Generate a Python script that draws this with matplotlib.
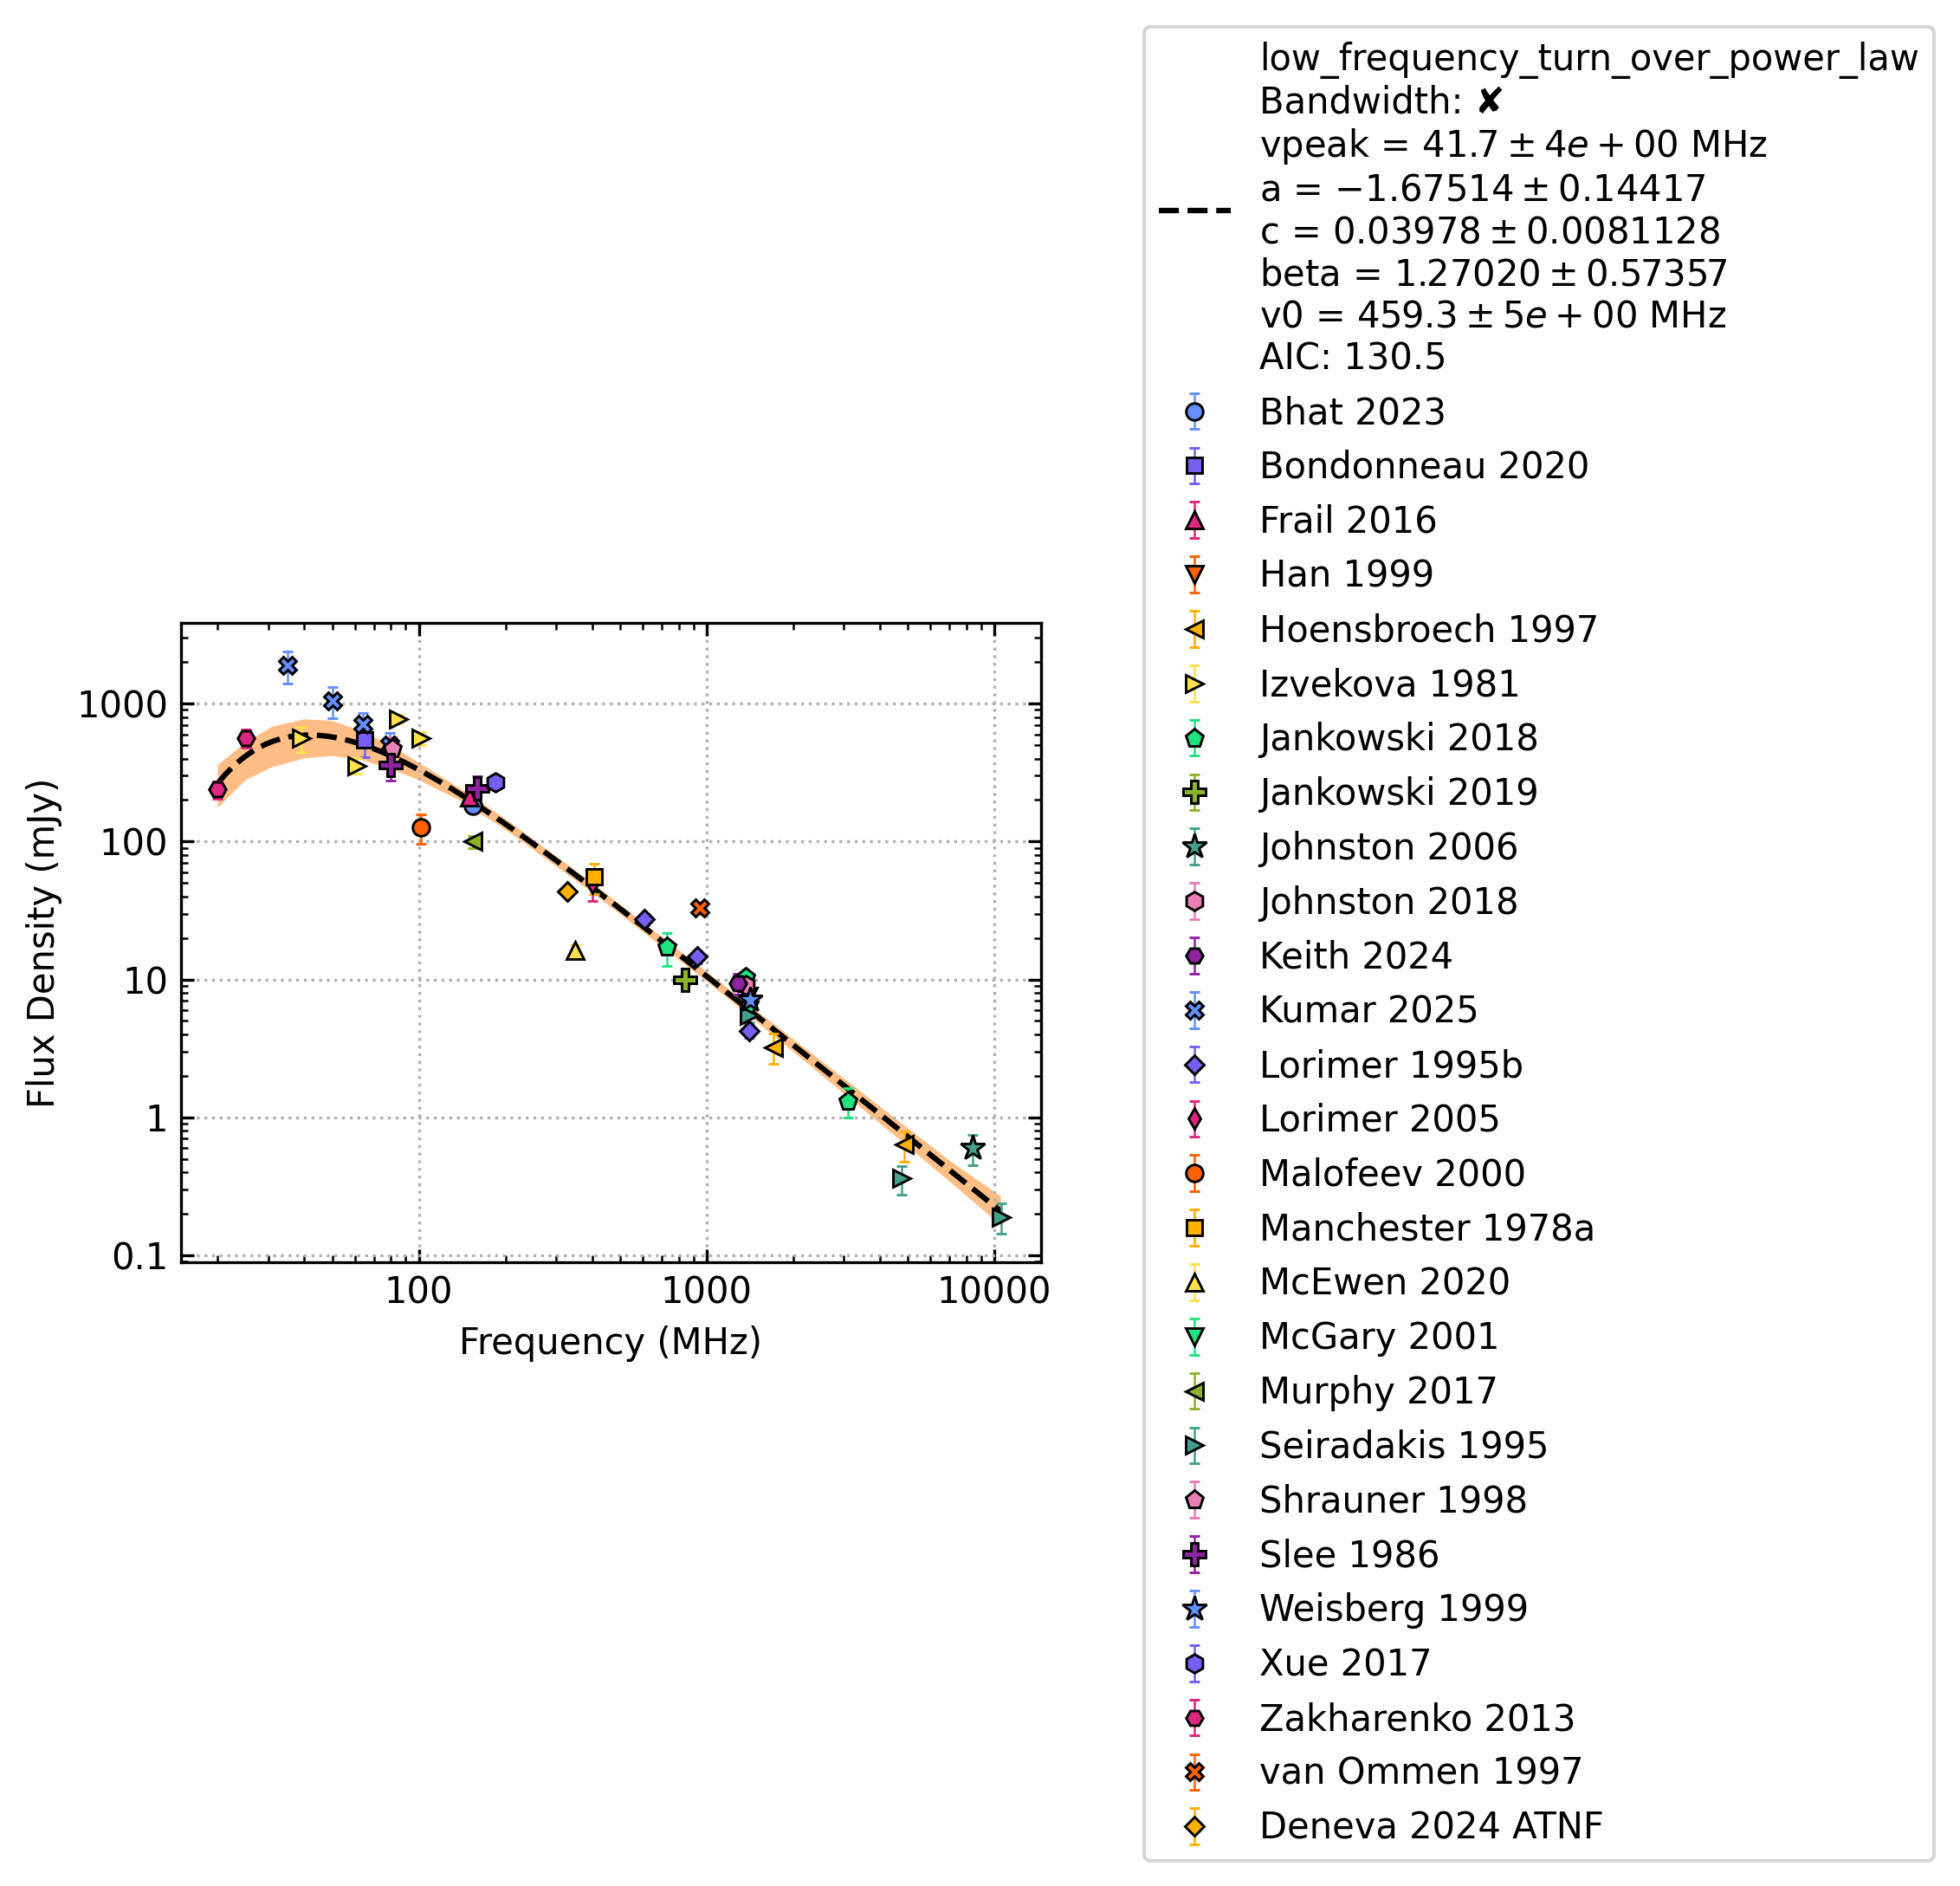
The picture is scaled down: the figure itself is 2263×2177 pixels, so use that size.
import numpy as np
import matplotlib
matplotlib.use('Agg')
import matplotlib.pyplot as plt
from matplotlib.ticker import FuncFormatter, NullFormatter


# fitted model parameters (low_frequency_turn_over_power_law)
fit_name = 'low_frequency_turn_over_power_law'
vpeak, vpeak_err = 41.7, 4.0
a, a_err = -1.67514, 0.14417
c, c_err = 0.03978, 0.0081128
beta, beta_err = 1.27020, 0.57357
v0, v0_err = 459.3, 5.0
aic = 130.5

# 1 sigma band of the fit (mJy)
band_freq = [20, 25, 31, 40, 50, 63, 80, 100, 140, 200, 400, 1000, 2000, 4850, 7150, 10550]
band_lo = [175, 279, 347, 401, 417, 391, 334, 279, 197, 122, 42.8, 9.7, 3.0, 0.65, 0.33, 0.165]
band_hi = [359, 523, 682, 769, 750, 634, 498, 373, 241, 146, 50.2, 11.4, 3.7, 0.88, 0.47, 0.268]

# flux density measurements
refs = ['Bhat 2023', 'Bondonneau 2020', 'Frail 2016', 'Han 1999', 'Hoensbroech 1997',
        'Izvekova 1981', 'Jankowski 2018', 'Jankowski 2019', 'Johnston 2006',
        'Johnston 2018', 'Keith 2024', 'Kumar 2025', 'Lorimer 1995b', 'Lorimer 2005',
        'Malofeev 2000', 'Manchester 1978a', 'McEwen 2020', 'McGary 2001', 'Murphy 2017',
        'Seiradakis 1995', 'Shrauner 1998', 'Slee 1986', 'Weisberg 1999', 'Xue 2017',
        'Zakharenko 2013', 'van Ommen 1997', 'Deneva 2024 ATNF']
freqs = [[154], [65], [150], [1400], [1710, 4850],
         [39, 61, 85, 102], [728, 1369, 3100], [843], [8400],
         [1369], [1284], [35, 50, 64, 79], [606, 925, 1408], [400],
         [102], [408], [350], [1410], [154],
         [1410, 4750, 10550], [81], [80, 160], [1418], [185],
         [20, 25], [950], [327]]
fluxes = [[183], [548], [209], [7.6], [3.23, 0.636],
          [561, 356, 776, 561], [17.1, 10.4, 1.31], [10.0], [0.597],
          [9.1], [9.42], [1890, 1050, 705, 498], [27.2, 14.6, 4.26], [50],
          [127], [55.5], [16.2], [6.0], [100],
          [5.5, 0.36, 0.19], [474], [360, 244], [7.08], [270],
          [238, 565], [33.0], [43.6]]
errs = [[18], [137], [21], [0.8], [0.8, 0.16],
        [115, 45, 60, 60], [4.6, 1.0, 0.31], [0.8], [0.15],
        [0.9], [1.6], [495, 268, 150, 115], [2.5, 1.5, 0.5], [13],
        [31], [14], [1.5], [0.6], [10],
        [0.6, 0.085, 0.047], [95], [85, 55], [0.7], [27],
        [35, 85], [3.0], [4.0]]

colours = ['#648FFF', '#785EF0', '#DC267F', '#FE6100', '#FFB000', '#FFE14D',
           '#1EE37F', '#8DB32B', '#44A08D', '#E87FB5', '#8E24A0']
markers = ['o', 's', '^', 'v', '<', '>', 'p', 'P', '*', 'h', 'H', 'X', 'D', 'd']
marker_size = {'o': 4.7, 's': 4.25, '^': 4.6, 'v': 4.6, '<': 4.6, '>': 4.6, 'p': 5.2,
               'P': 6.1, '*': 7.2, 'h': 5.2, 'H': 4.7, 'X': 4.7, 'D': 3.6, 'd': 4.1}


def low_frequency_turn_over_power_law(v, vpeak, a, c, beta, v0):
    x = v / v0
    xpeak = v / vpeak
    return c * x**a * np.exp(a / beta * xpeak**(-beta))


fig = plt.figure(figsize=(2263 / 300, 2177 / 300), dpi=300)
ax = fig.add_axes([209 / 2263, 1 - 1457 / 2177, 993 / 2263, 738 / 2177])

all_freqs = [f for fl in freqs for f in fl]
fit_freq = np.logspace(np.log10(min(all_freqs)), np.log10(max(all_freqs)), 100)
fit_flux = low_frequency_turn_over_power_law(fit_freq, vpeak, a, c, beta, v0) * 1000

fit_label = (fit_name + '\n'
             + 'Bandwidth: \u2718\n'
             + 'vpeak = ${:.1f} \\pm {:.0e}$ MHz\n'.format(vpeak, vpeak_err)
             + 'a = ${:.5f} \\pm {:.5f}$\n'.format(a, a_err)
             + 'c = ${:.5f} \\pm {:.7f}$\n'.format(c, c_err)
             + 'beta = ${:.5f} \\pm {:.5f}$\n'.format(beta, beta_err)
             + 'v0 = ${:.1f} \\pm {:.0e}$ MHz\n'.format(v0, v0_err)
             + 'AIC: {:.1f}'.format(aic))

ax.fill_between(band_freq, band_lo, band_hi, facecolor='C1', alpha=0.5, zorder=1)
ax.plot(fit_freq, fit_flux, 'k--', lw=1.5, label=fit_label, zorder=2)

for i in range(len(refs)):
    col = colours[i % len(colours)]
    mk = markers[i % len(markers)]
    ax.errorbar(freqs[i], fluxes[i], yerr=errs[i], fmt=mk, color=col, ecolor=col,
                mec='k', mew=0.7, ms=marker_size[mk], elinewidth=0.6, capsize=1.5,
                capthick=0.6, label=refs[i], zorder=3)

ax.set_xscale('log')
ax.set_yscale('log')
ax.set_xlim(14.9, 14550)
ax.set_ylim(0.089, 3850)
fmt = FuncFormatter(lambda v, p: '{:g}'.format(v))
ax.xaxis.set_major_formatter(fmt)
ax.yaxis.set_major_formatter(fmt)
ax.xaxis.set_minor_formatter(NullFormatter())
ax.yaxis.set_minor_formatter(NullFormatter())
ax.tick_params(which='both', direction='in', top=True, right=True)
ax.grid(True, which='major', ls=':')
ax.set_xlabel('Frequency (MHz)')
ax.set_ylabel('Flux Density (mJy)')

ax.legend(loc='upper left', bbox_to_anchor=(1321 / 2263, 1 - 31 / 2177),
          bbox_transform=fig.transFigure, borderaxespad=0, fontsize=10)

fig.savefig('out.png', dpi=300)
